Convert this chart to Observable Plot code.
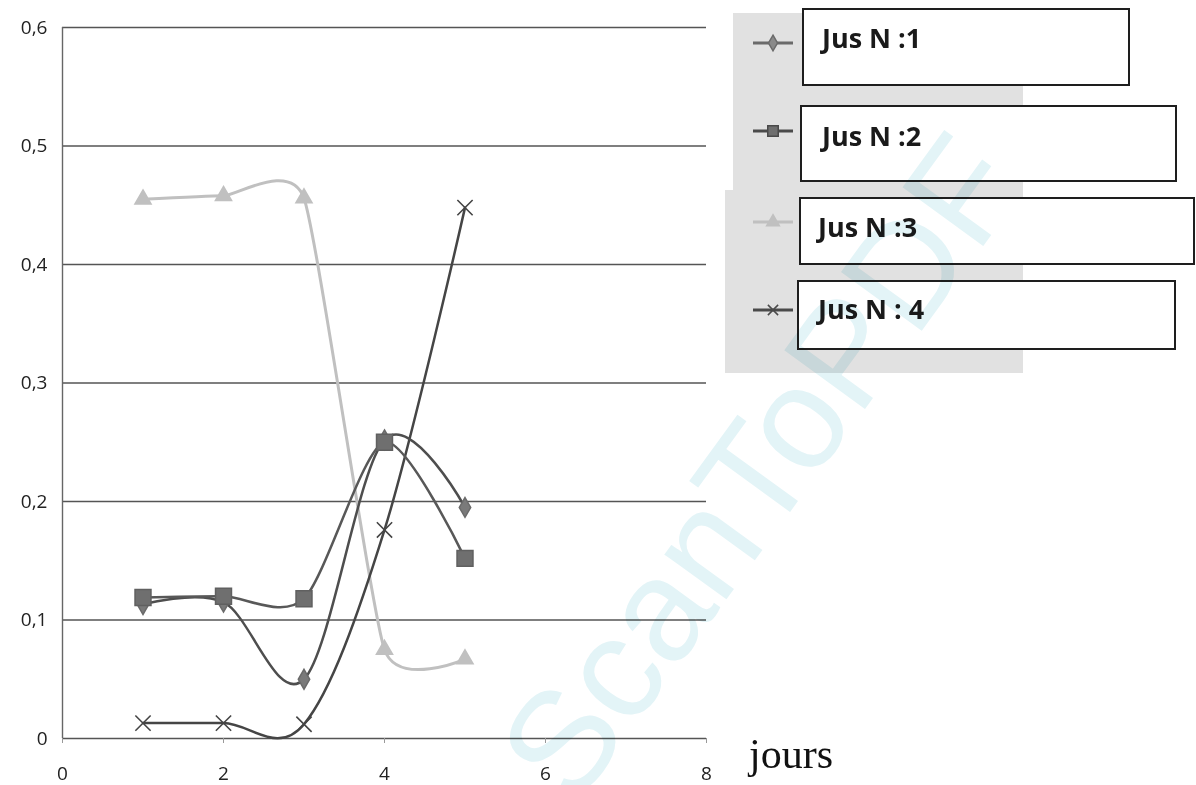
<!DOCTYPE html>
<html>
<head>
<meta charset="utf-8">
<script src="https://cdn.jsdelivr.net/npm/d3@7"></script>
<script src="https://cdn.jsdelivr.net/npm/@observablehq/plot@0.6"></script>
<style>
  html, body { margin: 0; padding: 0; background: #fff; }
  #wrap { position: relative; width: 1196px; height: 785px; overflow: hidden; }
  #chart { position: absolute; left: 0; top: 0; }
  #chart svg text { font-size: 19px !important; font-family: "Open Sans", sans-serif; fill: #222; }
  .lgbg { position: absolute; background: #e1e1e1; }
  .box { position: absolute; background: #fff; border: 2px solid #1e1e1e; box-sizing: border-box; }
  .box span { position: absolute; font-family: "Open Sans", sans-serif; font-weight: 700; font-size: 27px; color: #1a1a1a; line-height: 1; white-space: nowrap; }
  .lgmark { position: absolute; }
  #jours { position: absolute; left: 749px; top: 733px; font-family: "Liberation Serif", serif; font-size: 42px; color: #111; line-height: 1; }
  #wm { position: absolute; left: 0; top: 0; font-family: "Liberation Sans", sans-serif; font-size: 145px; color: #e3f4f7; white-space: nowrap; transform-origin: 0 0; mix-blend-mode: multiply; pointer-events: none; line-height: 1; }
</style>
</head>
<body>
<div id="wrap">
  <div id="chart"></div>
</div>
<script>
// ---- data ----
const days = [1, 2, 3, 4, 5];
const seriesNames = ["Jus N :1", "Jus N :2", "Jus N :3", "Jus N : 4"];
const jus1 = [0.113, 0.115, 0.050, 0.252, 0.195];
const jus2 = [0.119, 0.120, 0.118, 0.250, 0.152];
const jus3 = [0.455, 0.458, 0.456, 0.075, 0.067];
const jus4 = [0.013, 0.013, 0.012, 0.176, 0.448];
const xTicks = [0, 2, 4, 6, 8];
const yTicks = [0, 0.1, 0.2, 0.3, 0.4, 0.5, 0.6];

const toRows = (vals, name) => days.map((d, i) => ({day: d, v: vals[i], series: name}));
const r1 = toRows(jus1, seriesNames[0]);
const r2 = toRows(jus2, seriesNames[1]);
const r3 = toRows(jus3, seriesNames[2]);
const r4 = toRows(jus4, seriesNames[3]);

const fmtY = d => d === 0 ? "0" : d.toFixed(1).replace(".", ",");

const chart = Plot.plot({
  width: 1196,
  height: 785,
  marginLeft: 62,
  marginRight: 490,
  marginTop: 27,
  marginBottom: 47,
  style: {fontFamily: "Open Sans, sans-serif", fontSize: "19px", color: "#222", background: "transparent"},
  x: {domain: [0, 8]},
  y: {domain: [0, 0.6]},
  marks: [
    Plot.gridY(yTicks.filter(d => d > 0), {stroke: "#555", strokeOpacity: 1, strokeWidth: 1.6}),
    Plot.ruleY([0], {stroke: "#555", strokeWidth: 1.6}),
    Plot.ruleX([0], {stroke: "#666", strokeWidth: 1.4}),
    Plot.axisY({ticks: yTicks, tickFormat: fmtY, tickSize: 0, tickPadding: 15, label: null, fill: "#222"}),
    Plot.axisX({ticks: xTicks, tickFormat: d => String(d), tickSize: 5, tickPadding: 23, label: null, stroke: "#999", fill: "#222"}),
    Plot.line(r3, {x: "day", y: "v", stroke: "#c0c0c0", strokeWidth: 3, curve: "cardinal", tension: 0.5}),
    Plot.line(r4, {x: "day", y: "v", stroke: "#454545", strokeWidth: 2.5, curve: "cardinal", tension: 0}),
    Plot.line(r1, {x: "day", y: "v", stroke: "#4e4e4e", strokeWidth: 2.5, curve: "cardinal", tension: 0}),
    Plot.line(r2, {x: "day", y: "v", stroke: "#585858", strokeWidth: 2.5, curve: "cardinal", tension: 0.2}),
    Plot.dot(r3, {x: "day", y: "v", symbol: "triangle", r: 6, fill: "#c0c0c0", stroke: "#c0c0c0"}),
    Plot.dot(r4, {x: "day", y: "v", symbol: "times", r: 7, stroke: "#454545", strokeWidth: 1.6}),
    Plot.dot(r1, {x: "day", y: "v", symbol: "diamond", r: 6, fill: "#7a7a7a", stroke: "#6a6a6a"}),
    Plot.dot(r2, {x: "day", y: "v", symbol: "square", r: 9, fill: "#6f6f6f", stroke: "#606060"})
  ]
});
document.getElementById("chart").appendChild(chart);

// ---- legend ----
const wrap = document.getElementById("wrap");
function addDiv(cls, l, t, w, h) {
  const d = document.createElement("div");
  d.className = cls;
  Object.assign(d.style, {left: l + "px", top: t + "px", width: w + "px", height: h + "px"});
  wrap.appendChild(d);
  return d;
}
addDiv("lgbg", 733, 13, 290, 360);
addDiv("lgbg", 725, 190, 70, 183);

const boxes = [
  {l: 802, t: 8, w: 328, h: 78, tx: 18, ty: 14},
  {l: 800, t: 105, w: 377, h: 77, tx: 20, ty: 15},
  {l: 799, t: 197, w: 396, h: 68, tx: 17, ty: 14},
  {l: 797, t: 280, w: 379, h: 70, tx: 19, ty: 13}
];
boxes.forEach((b, i) => {
  const d = addDiv("box", b.l, b.t, b.w, b.h);
  const s = document.createElement("span");
  s.textContent = seriesNames[i];
  s.style.left = b.tx + "px";
  s.style.top = b.ty + "px";
  d.appendChild(s);
});

// legend line+marker samples
const ns = "http://www.w3.org/2000/svg";
const lg = [
  {y: 43, stroke: "#6a6a6a", fill: "#8a8a8a", sym: d3.symbolDiamond, size: 70},
  {y: 131, stroke: "#4a4a4a", fill: "#6f6f6f", sym: d3.symbolSquare, size: 110},
  {y: 222, stroke: "#c0c0c0", fill: "#c0c0c0", sym: d3.symbolTriangle, size: 70},
  {y: 310, stroke: "#4a4a4a", fill: "none", sym: d3.symbolX, size: 70}
];
lg.forEach(m => {
  const svg = document.createElementNS(ns, "svg");
  svg.setAttribute("width", 50); svg.setAttribute("height", 24);
  svg.setAttribute("class", "lgmark");
  svg.style.left = "749px"; svg.style.top = (m.y - 12) + "px";
  svg.style.position = "absolute";
  const ln = document.createElementNS(ns, "line");
  ln.setAttribute("x1", 4); ln.setAttribute("x2", 44); ln.setAttribute("y1", 12); ln.setAttribute("y2", 12);
  ln.setAttribute("stroke", m.stroke); ln.setAttribute("stroke-width", 3);
  svg.appendChild(ln);
  const p = document.createElementNS(ns, "path");
  p.setAttribute("d", d3.symbol(m.sym, m.size)());
  p.setAttribute("transform", "translate(24,12)");
  p.setAttribute("fill", m.fill); p.setAttribute("stroke", m.stroke); p.setAttribute("stroke-width", 1.5);
  svg.appendChild(p);
  wrap.appendChild(svg);
});

// axis title
const j = document.createElement("div");
j.id = "jours"; j.textContent = "jours";
wrap.appendChild(j);

// watermark
const wm = document.createElement("div");
wm.id = "wm"; wm.textContent = "ScanToPDF";
wm.style.transform = "translate(475px, 738px) rotate(-54deg)";
wrap.appendChild(wm);
</script>
</body>
</html>
